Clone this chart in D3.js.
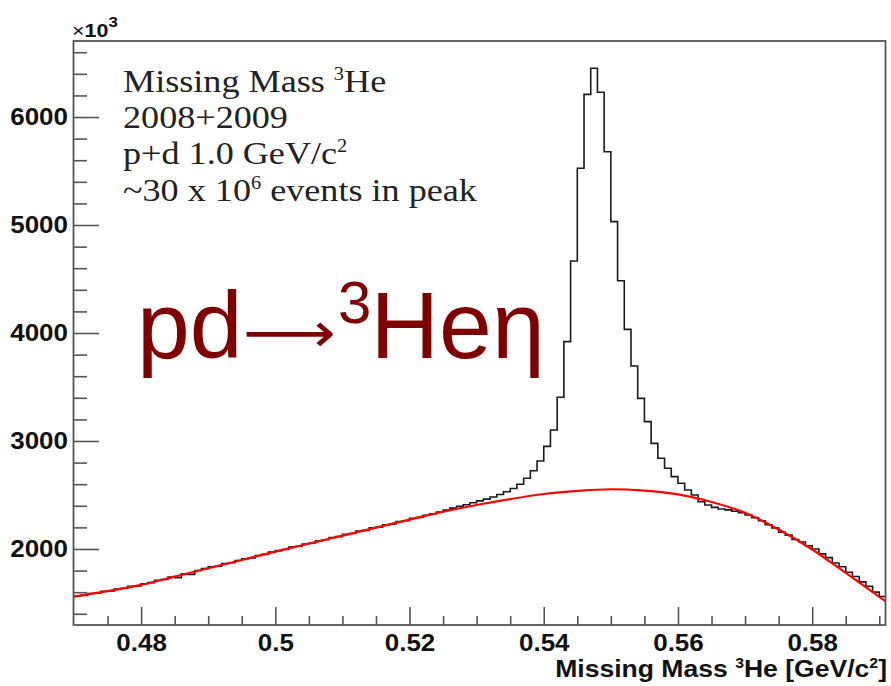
<!DOCTYPE html>
<html>
<head>
<meta charset="utf-8">
<script src="https://cdn.jsdelivr.net/npm/d3@7"></script>
<style>
  html, body { margin: 0; padding: 0; background: #ffffff; }
  svg { display: block; }
</style>
</head>
<body>
<svg id="chart" width="891" height="686"></svg>
<script>
// ---------------- DATA ----------------
const binStart = 0.470;          // lower edge of first bin (GeV/c^2)
const binWidth = 0.001;          // bin width (GeV/c^2)
// counts per bin (units of 10^3), bins from 0.470 to 0.591
const counts = [
  1565, 1570, 1588, 1592, 1608, 1612, 1630, 1636, 1655, 1658,
  1678, 1688, 1710, 1718, 1740, 1733, 1770, 1765, 1800, 1818,
  1835, 1840, 1865, 1872, 1893, 1910, 1918, 1940, 1950, 1972,
  1985, 1995, 2018, 2025, 2046, 2055, 2075, 2085, 2105, 2114,
  2135, 2143, 2165, 2172, 2195, 2202, 2225, 2232, 2255, 2262,
  2285, 2292, 2312, 2326, 2342,
  2360, 2378, 2395, 2410, 2428, 2445, 2462, 2482, 2505, 2530,
  2560, 2600, 2655, 2725, 2815, 2950, 3102, 3405, 3920, 4667,
  5525, 6210, 6451,
  6229, 5679, 5031, 4484, 4034, 3694, 3395, 3179, 2978, 2840,
  2747, 2670, 2608, 2546, 2500, 2438, 2407, 2385, 2370, 2362,
  2350, 2335,
  2315, 2290, 2262, 2225, 2195, 2155, 2128, 2088, 2065, 2030,
  2000, 1955, 1920, 1870, 1835, 1785, 1745, 1695, 1655, 1600,
  1560
];
// background fit (red curve)
const fitX = [0.470, 0.475, 0.480, 0.485, 0.490, 0.495, 0.500, 0.505, 0.510, 0.515,
              0.520, 0.525, 0.530, 0.535, 0.540, 0.545, 0.550, 0.555, 0.560, 0.565,
              0.570, 0.575, 0.580, 0.585, 0.590, 0.591];
const fitY = [1558, 1610, 1667, 1744, 1821, 1898, 1975, 2050, 2124, 2198,
              2272, 2345, 2407, 2462, 2509, 2538, 2553, 2540, 2505, 2435,
              2335, 2180, 1995, 1778, 1556, 1512];
const xMajorTicks = [0.48, 0.50, 0.52, 0.54, 0.56, 0.58];
const xTickLabels = ["0.48", "0.5", "0.52", "0.54", "0.56", "0.58"];
const xMinorTicks = [0.475, 0.485, 0.49, 0.495, 0.505, 0.51, 0.515, 0.525, 0.53, 0.535,
                     0.545, 0.55, 0.555, 0.565, 0.57, 0.575, 0.585, 0.59];
const yMajorTicks = [2000, 3000, 4000, 5000, 6000];
const yTickLabels = ["2000", "3000", "4000", "5000", "6000"];
const yMinorTicks = [1400, 1600, 1800, 2200, 2400, 2600, 2800, 3200, 3400, 3600, 3800,
                     4200, 4400, 4600, 4800, 5200, 5400, 5600, 5800, 6200, 6400, 6600];
const infoLines = ["Missing Mass ³He", "2008+2009", "p+d 1.0 GeV/c²", "~30 x 10⁶ events in peak"];

// ---------------- LAYOUT ----------------
const svg = d3.select("#chart");
const fL = 74, fT = 41, fR = 886, fB = 625;
const x = d3.scaleLinear().domain([0.47, 0.591]).range([fL, fR]);
const y = d3.scaleLinear().domain([1296, 6704]).range([fB, fT]);
const stretch = 1.13;
const axisColor = "#555";

svg.append("defs").append("clipPath").attr("id", "frameClip")
  .append("rect").attr("x", fL).attr("y", fT)
  .attr("width", fR - fL).attr("height", fB - fT);

// ---------------- HISTOGRAM ----------------
const histPts = counts.map((c, i) => [binStart + i * binWidth, c]);
histPts.push([binStart + counts.length * binWidth, counts[counts.length - 1]]);
const stepLine = d3.line().x(d => x(d[0])).y(d => y(d[1])).curve(d3.curveStepAfter);
svg.append("path")
  .attr("clip-path", "url(#frameClip)")
  .attr("d", stepLine(histPts))
  .attr("fill", "none").attr("stroke", "#1a1a1a").attr("stroke-width", 1.6);

// ---------------- FIT ----------------
const fitLine = d3.line().x(d => x(d[0])).y(d => y(d[1])).curve(d3.curveMonotoneX);
svg.append("path")
  .attr("clip-path", "url(#frameClip)")
  .attr("d", fitLine(fitX.map((v, i) => [v, fitY[i]])))
  .attr("fill", "none").attr("stroke", "#ff0000").attr("stroke-width", 2.2);

// ---------------- AXES ----------------
function styleAxis(g) {
  g.select(".domain").remove();
  g.selectAll("line").attr("stroke", axisColor).attr("stroke-width", 1.6);
}
// y ticks (pointing inward)
svg.append("g").attr("transform", `translate(${fL},0)`)
  .call(d3.axisRight(y).tickValues(yMajorTicks).tickSize(25).tickFormat(""))
  .call(styleAxis);
svg.append("g").attr("transform", `translate(${fL},0)`)
  .call(d3.axisRight(y).tickValues(yMinorTicks).tickSize(13).tickFormat(""))
  .call(styleAxis);
// y labels
const yLab = svg.append("g").attr("transform", `translate(${fL},0)`)
  .call(d3.axisLeft(y).tickValues(yMajorTicks).tickSize(0).tickPadding(7)
        .tickFormat((d, i) => yTickLabels[i]));
yLab.select(".domain").remove();
yLab.selectAll("text")
  .attr("font-family", "'Liberation Sans', Arial, sans-serif")
  .attr("font-weight", "bold").attr("font-size", 23).attr("fill", "#111")
  .attr("x", null)
  .attr("transform", `translate(-6,0) scale(${stretch},1)`);

// x ticks (pointing inward)
svg.append("g").attr("transform", `translate(0,${fB})`)
  .call(d3.axisTop(x).tickValues(xMajorTicks).tickSize(18).tickFormat(""))
  .call(styleAxis);
svg.append("g").attr("transform", `translate(0,${fB})`)
  .call(d3.axisTop(x).tickValues(xMinorTicks).tickSize(9).tickFormat(""))
  .call(styleAxis);
const xLab = svg.append("g").attr("transform", `translate(0,${fB})`)
  .call(d3.axisBottom(x).tickValues(xMajorTicks).tickSize(0).tickPadding(10)
        .tickFormat((d, i) => xTickLabels[i]));
xLab.select(".domain").remove();
xLab.selectAll("text")
  .attr("font-family", "'Liberation Sans', Arial, sans-serif")
  .attr("font-weight", "bold").attr("font-size", 23).attr("fill", "#111")
  .attr("transform", `scale(${stretch},1)`);

// frame
svg.append("rect")
  .attr("x", fL - 0.5).attr("y", fT).attr("width", fR - fL).attr("height", fB - fT)
  .attr("fill", "none").attr("stroke", axisColor).attr("stroke-width", 1.8);

// ---------------- TEXTS ----------------
// axis title
const xt = svg.append("g").attr("transform", `translate(887,677) scale(${stretch},1)`)
  .append("text").attr("text-anchor", "end")
  .attr("font-family", "'Liberation Sans', Arial, sans-serif")
  .attr("font-weight", "bold").attr("font-size", 23.5).attr("fill", "#111");
xt.append("tspan").text("Missing Mass ");
xt.append("tspan").attr("font-size", 14).attr("dy", -9).text("3");
xt.append("tspan").attr("dy", 9).text("He [GeV/c");
xt.append("tspan").attr("font-size", 14).attr("dy", -9).text("2");
xt.append("tspan").attr("dy", 9).text("]");

// x10^3 multiplier
const mt = svg.append("g").attr("transform", `translate(72,37) scale(${stretch},1)`)
  .append("text")
  .attr("font-family", "'Liberation Sans', Arial, sans-serif")
  .attr("font-size", 19).attr("fill", "#111");
mt.append("tspan").text("×");
mt.append("tspan").attr("font-weight", "bold").attr("font-size", 19).text("10");
mt.append("tspan").attr("font-weight", "bold").attr("font-size", 15).attr("dy", -10).text("3");

// info text box (Times)
const infoG = svg.append("g").attr("transform", `translate(123,0) scale(${stretch},1)`);
const baselines = [92, 128, 164, 201];
function addSuperLine(str, yb) {
  const t = infoG.append("text").attr("x", 0).attr("y", yb)
    .attr("font-family", "'Liberation Serif', 'Times New Roman', serif")
    .attr("font-size", 32).attr("fill", "#222");
  const supMap = { "³": "3", "²": "2", "⁶": "6" };
  let buf = "";
  let raised = false;
  for (const ch of str) {
    if (supMap[ch]) {
      if (buf) { t.append("tspan").attr("dy", raised ? 12 : 0).text(buf); buf = ""; raised = false; }
      t.append("tspan").attr("font-size", 18).attr("dy", -12).text(supMap[ch]);
      raised = true;
    } else buf += ch;
  }
  if (buf) t.append("tspan").attr("dy", raised ? 12 : 0).text(buf);
}
infoLines.forEach((s, i) => addSuperLine(s, baselines[i]));

// reaction label
const rc = svg.append("text")
  .attr("x", 137).attr("y", 358)
  .attr("font-family", "'Liberation Sans', Arial, sans-serif")
  .attr("font-size", 95).attr("fill", "#7f0000");
rc.append("tspan").text("pd");
rc.append("tspan").attr("x", 338).attr("y", 323).attr("font-size", 60).text("3");
rc.append("tspan").attr("x", 370.5).attr("y", 358).text("Heη");
// long arrow
svg.append("text")
  .attr("x", 243).attr("y", 352)
  .attr("font-family", "'DejaVu Sans', sans-serif")
  .attr("font-size", 56).attr("fill", "#7f0000")
  .attr("textLength", 93).attr("lengthAdjust", "spacingAndGlyphs")
  .text("⟶");
</script>
</body>
</html>
